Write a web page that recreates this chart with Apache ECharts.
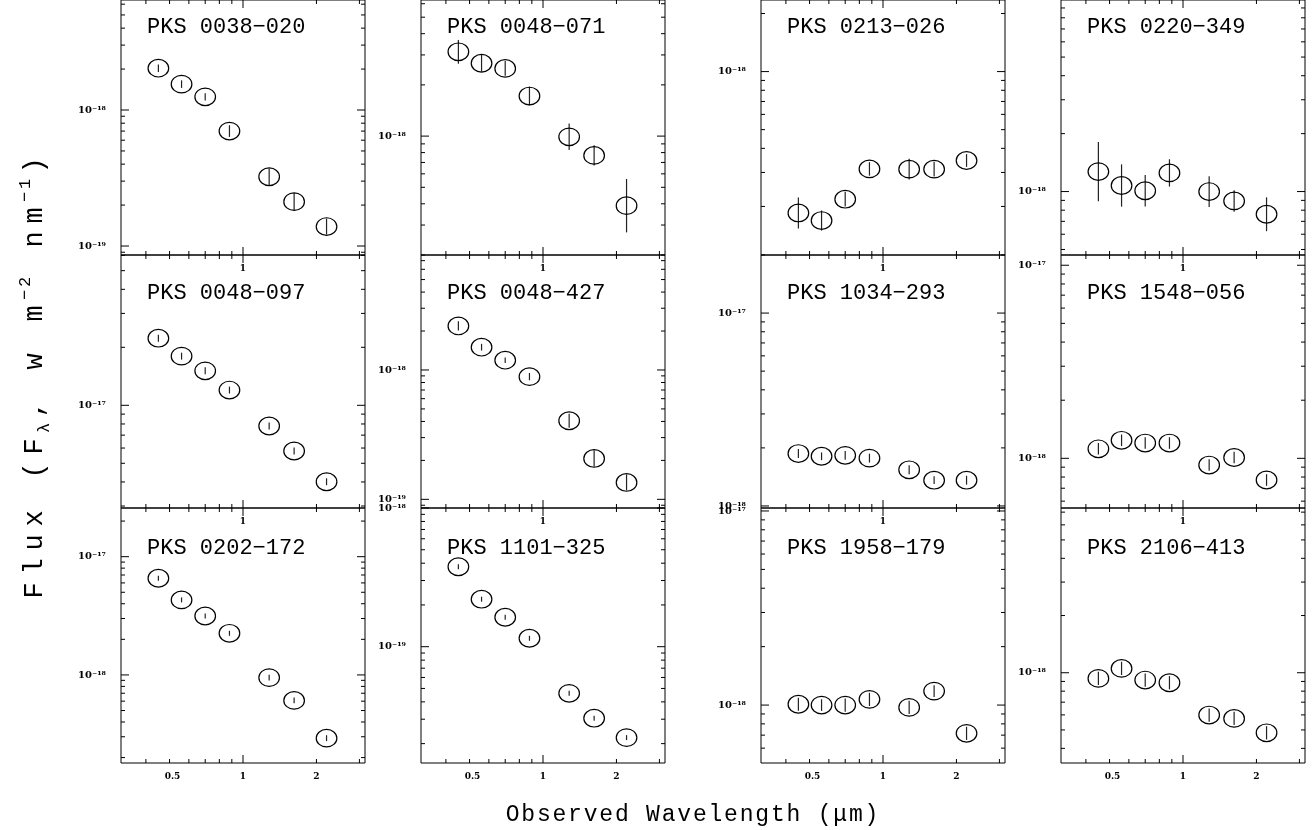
<!DOCTYPE html>
<html><head><meta charset="utf-8">
<script src="https://cdn.jsdelivr.net/npm/echarts@6/dist/echarts.min.js"></script>
<style>html,body{margin:0;padding:0;background:#fff}#c{width:1312px;height:830px}</style>
</head><body><div id="c"></div>
<script>
// ---------- data ----------
const wavelengths = [0.45, 0.56, 0.70, 0.88, 1.28, 1.62, 2.20]; // micron
const sourceNames = ['PKS 0038−020','PKS 0048−071','PKS 0213−026','PKS 0220−349',
                     'PKS 0048−097','PKS 0048−427','PKS 1034−293','PKS 1548−056',
                     'PKS 0202−172','PKS 1101−325','PKS 1958−179','PKS 2106−413'];
const flux_0038_020 = [2.03e-18,1.55e-18,1.25e-18,7.0e-19,3.23e-19,2.12e-19,1.39e-19];
const flux_0048_071 = [3.13e-18,2.68e-18,2.50e-18,1.72e-18,0.99e-18,0.77e-18,0.39e-18];
const flux_0213_026 = [1.85e-19,1.69e-19,2.18e-19,3.13e-19,3.12e-19,3.12e-19,3.46e-19];
const flux_0220_349 = [1.27e-18,1.075e-18,1.01e-18,1.25e-18,1.0e-18,0.894e-18,0.762e-18];
const flux_0048_097 = [2.23e-17,1.80e-17,1.51e-17,1.20e-17,7.81e-18,5.79e-18,4.01e-18];
const flux_0048_427 = [2.19e-18,1.50e-18,1.19e-18,8.88e-19,4.05e-19,2.07e-19,1.35e-19];
const flux_1034_293 = [1.87e-18,1.81e-18,1.83e-18,1.77e-18,1.54e-18,1.36e-18,1.36e-18];
const flux_1548_056 = [1.12e-18,1.24e-18,1.20e-18,1.20e-18,0.923e-18,1.01e-18,0.772e-18];
const flux_0202_172 = [6.57e-18,4.31e-18,3.15e-18,2.25e-18,9.49e-19,6.09e-19,2.92e-19];
const flux_1101_325 = [3.77e-19,2.20e-19,1.63e-19,1.15e-19,4.61e-20,3.05e-20,2.21e-20];
const flux_1958_179 = [1.01e-18,1.00e-18,1.00e-18,1.07e-18,0.973e-18,1.18e-18,0.715e-18];
const flux_2106_413 = [0.934e-18,1.054e-18,0.915e-18,0.886e-18,0.599e-18,0.575e-18,0.483e-18];
// 1-sigma uncertainties, in dex
const err_0038_020 = [0.028,0.028,0.027,0.043,0.061,0.064,0.059];
const err_0048_071 = [0.070,0.050,0.043,0.055,0.078,0.059,0.157];
const err_0213_026 = [0.080,0.052,0.038,0.035,0.054,0.038,0.033];
const err_0220_349 = [0.154,0.110,0.082,0.071,0.080,0.056,0.088];
const err_0048_097 = [0.018,0.018,0.018,0.018,0.018,0.018,0.018];
const err_0048_427 = [0.036,0.026,0.021,0.028,0.055,0.064,0.062];
const err_1034_293 = [0.023,0.020,0.023,0.023,0.023,0.020,0.023];
const err_1548_056 = [0.030,0.030,0.030,0.030,0.030,0.030,0.030];
const err_0202_172 = [0.021,0.021,0.021,0.021,0.025,0.025,0.025];
const err_1101_325 = [0.018,0.018,0.018,0.018,0.018,0.018,0.018];
const err_1958_179 = [0.034,0.030,0.034,0.034,0.034,0.030,0.034];
const err_2106_413 = [0.035,0.035,0.035,0.035,0.035,0.035,0.035];
const fluxes = [flux_0038_020,flux_0048_071,flux_0213_026,flux_0220_349,flux_0048_097,flux_0048_427,
                flux_1034_293,flux_1548_056,flux_0202_172,flux_1101_325,flux_1958_179,flux_2106_413];
const errors = [err_0038_020,err_0048_071,err_0213_026,err_0220_349,err_0048_097,err_0048_427,
                err_1034_293,err_1548_056,err_0202_172,err_1101_325,err_1958_179,err_2106_413];
// axis ranges
const xRange = [0.316227766, 3.16227766];
const yMin = [8.59e-20, 2.0e-19, 1.12e-19, 4.68e-19, 2.93e-18, 8.57e-20, 9.76e-19, 5.53e-19, 1.80e-19, 1.45e-20, 5.03e-19, 3.35e-19];
const yMax = [6.44e-18, 6.31e-18, 2.35e-18, 0.99e-17, 6.03e-17, 7.74e-18, 2.0e-17, 1.13e-17, 2.58e-17, 1.0e-18, 1.036e-17, 7.36e-18];
// tick values / labels
const xMajorTicks = [1];
const xMinorTicks = [0.4,0.5,0.6,0.7,0.8,0.9,2,3];
const xLabelValues = [0.5, 1, 2];
const xLabelTexts = ['0.5', '1', '2'];
const xAxisTitle = 'Observed Wavelength (μm)';
// y title pieces: [text, kind]  m = normal, s = subscript, p = superscript
const yAxisTitle = [['Flux (F','m'],['λ','s'],[', w m','m'],['−2','p'],[' nm','m'],['−1','p'],[')','m']];

// ---------- layout ----------
const colLeft = [121, 421, 761, 1061];
const colWidth = 244;
const rowTop = [0, 255, 508];
const rowHeight = [255, 253, 255];
const titleY = [11, 277, 532];

const supMap = {'-':'⁻','0':'⁰','1':'¹','2':'²','3':'³','4':'⁴','5':'⁵','6':'⁶','7':'⁷','8':'⁸','9':'⁹'};
const sup = s => String(s).split('').map(c => supMap[c]).join('');
const spaced = (pieces) => pieces.map(([t, k]) => t.split('').map(c => '{' + k + '|' + c + '}').join('')).join('');

const grids = [], xAxes = [], yAxes = [], series = [], titles = [];
for (let i = 0; i < 12; i++) {
  const row = Math.floor(i / 4), col = i % 4;
  grids.push({left: colLeft[col], top: rowTop[row], width: colWidth, height: rowHeight[row],
    show: true, borderColor: '#000', borderWidth: 1, backgroundColor: 'transparent', containLabel: false});
  xAxes.push({gridIndex: i, type: 'log', min: xRange[0], max: xRange[1], show: false});
  yAxes.push({gridIndex: i, type: 'log', min: yMin[i], max: yMax[i], show: false});
  titles.push({text: sourceNames[i], left: colLeft[col] + 21, top: titleY[row],
    textStyle: {fontFamily: 'Liberation Mono', fontSize: 22, fontWeight: 'normal', color: '#000'}});

  // frame: ticks and tick labels
  series.push({
    type: 'custom', xAxisIndex: i, yAxisIndex: i, silent: true, clip: false,
    data: [[1, Math.sqrt(yMin[i] * yMax[i])]],
    renderItem: (params, api) => {
      const cs = params.coordSys;
      const L = cs.x, T = cs.y, R = cs.x + cs.width, B = cs.y + cs.height;
      const yRef = Math.sqrt(yMin[i] * yMax[i]);
      const ch = [];
      const line = (x1, y1, x2, y2) => ch.push({type: 'line', shape: {x1, y1, x2, y2},
        style: {stroke: '#000', lineWidth: 1}});
      const text = (t, x, y, align, vAlign, font) => ch.push({type: 'text', x, y,
        style: {text: t, x: 0, y: 0, align, textAlign: align, verticalAlign: vAlign, textVerticalAlign: vAlign,
                font, fill: '#000'}});
      xMajorTicks.forEach(v => { const x = api.coord([v, yRef])[0]; line(x, B, x, B - 8); line(x, T, x, T + 8); });
      xMinorTicks.forEach(v => { const x = api.coord([v, yRef])[0]; line(x, B, x, B - 4); line(x, T, x, T + 4); });
      const e0 = Math.floor(Math.log10(yMin[i])) , e1 = Math.ceil(Math.log10(yMax[i]));
      for (let e = e0; e <= e1; e++) {
        for (let m = 1; m <= 9; m++) {
          const v = m * Math.pow(10, e);
          if (v < yMin[i] * 0.9999 || v > yMax[i] * 1.0001) continue;
          const y = api.coord([1, v])[1];
          const len = m === 1 ? 8 : 4;
          line(L, y, L + len, y); line(R, y, R - len, y);
          if (m === 1) text('10' + sup(e), L - 15, y, 'right', 'middle', 'bold 10px "DejaVu Serif"');
        }
      }
      if (row < 2) {
        text('1', api.coord([1, yRef])[0], B + 14, 'center', 'middle', 'bold 9px "DejaVu Serif"');
      } else {
        xLabelValues.forEach((v, k) => text(xLabelTexts[k], api.coord([v, yRef])[0] + (k === 0 ? 3 : 0), B + 14,
          'center', 'middle', 'bold 9px "DejaVu Serif"'));
      }
      return {type: 'group', children: ch};
    }
  });

  // data points: open circles with vertical error bars
  series.push({
    type: 'custom', xAxisIndex: i, yAxisIndex: i, clip: false,
    data: wavelengths.map((w, k) => [w, fluxes[i][k], errors[i][k]]),
    renderItem: (params, api) => {
      const w = api.value(0), f = api.value(1), e = api.value(2);
      const p = api.coord([w, f]);
      const lo = api.coord([w, f * Math.pow(10, -e)]);
      const hi = api.coord([w, f * Math.pow(10, e)]);
      return {type: 'group', children: [
        {type: 'line', shape: {x1: p[0], y1: lo[1], x2: p[0], y2: hi[1]}, style: {stroke: '#222', lineWidth: 1.2}},
        {type: 'ellipse', shape: {cx: p[0], cy: p[1], rx: 10.3, ry: 8.8}, style: {fill: 'none', stroke: '#000', lineWidth: 1.2}}
      ]};
    }
  });
}

const chart = echarts.init(document.getElementById('c'), null, {renderer: 'canvas'});
chart.setOption({
  animation: false,
  backgroundColor: '#fff',
  title: titles,
  grid: grids, xAxis: xAxes, yAxis: yAxes, series,
  graphic: [
    {type: 'text', x: 692, y: 815,
      style: {text: spaced([[xAxisTitle, 'm']]), align: 'center', verticalAlign: 'middle',
        textAlign: 'center', textVerticalAlign: 'middle', fill: '#000',
        rich: {m: {fontFamily: 'Liberation Mono', fontSize: 23, width: 15.6, align: 'center', lineHeight: 30}}}},
    {type: 'text', x: 35, y: 378, rotation: Math.PI / 2,
      style: {
        text: spaced(yAxisTitle),
        align: 'center', verticalAlign: 'middle', textAlign: 'center', textVerticalAlign: 'middle',
        fill: '#000',
        rich: {
          m: {fontFamily: 'Liberation Mono', fontSize: 27, width: 24, align: 'center', lineHeight: 36, verticalAlign: 'middle'},
          s: {fontFamily: 'Liberation Mono', fontSize: 17, width: 13, align: 'center', lineHeight: 36, verticalAlign: 'bottom'},
          p: {fontFamily: 'Liberation Mono', fontSize: 17, width: 13, align: 'center', lineHeight: 36, verticalAlign: 'top'}
        }
      }}
  ]
});
</script></body></html>
